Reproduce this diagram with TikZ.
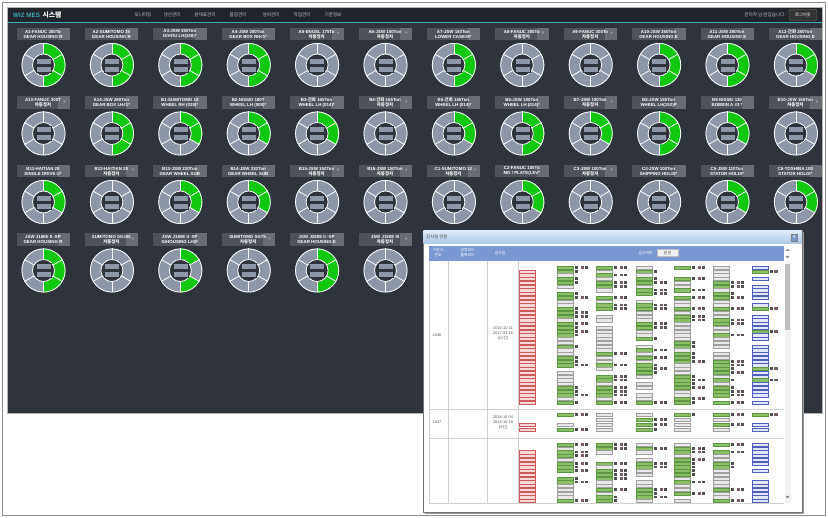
\documentclass[tikz,border=0pt]{standalone}
\usepackage{fontspec}
\setmainfont{Liberation Sans}
\newfontfamily\kr{Noto Sans CJK KR}
\definecolor{scr}{RGB}{46,51,60}
\definecolor{hdr}{RGB}{33,36,43}
\definecolor{mteal}{RGB}{64,168,178}
\definecolor{ringc}{RGB}{141,151,168}
\definecolor{ggreen}{RGB}{16,200,16}
\definecolor{lblbg}{RGB}{78,82,90}
\definecolor{lblbtn}{RGB}{104,108,115}
\definecolor{menuc}{RGB}{190,195,200}
\definecolor{thead}{RGB}{124,152,212}
\definecolor{redfill}{RGB}{246,214,214}
\definecolor{redline}{RGB}{205,90,90}
\definecolor{grayfill}{RGB}{232,232,232}
\definecolor{grayline}{RGB}{160,160,160}
\definecolor{grfill}{RGB}{140,190,105}
\definecolor{grline}{RGB}{95,150,70}
\definecolor{bluefill}{RGB}{226,230,248}
\definecolor{blueline}{RGB}{80,95,190}
\definecolor{tailA}{RGB}{80,80,80}
\definecolor{tailB}{RGB}{120,95,95}
\tikzset{
  spoke/.style={draw=white, line width=0.8pt},
  barbox/.style={fill=ringc, draw=scr, line width=0.6pt},
  lbltxt/.style={font=\fontsize{4.4}{5.1}\selectfont\bfseries, text=white, align=center, inner sep=0pt},
  xmark/.style={font=\fontsize{4.5}{5}\selectfont, text=white!85!black, inner sep=0pt},
  menu/.style={font=\kr\fontsize{4.6}{5}\selectfont, text=menuc, inner sep=0pt},
  cred/.style={fill=redfill, draw=redline, line width=0.35pt},
  cgray/.style={fill=grayfill, draw=grayline, line width=0.35pt},
  cgreen/.style={fill=grfill, draw=grline, line width=0.35pt},
  cblue/.style={fill=bluefill, draw=blueline, line width=0.35pt},
  ptxt/.style={font=\fontsize{3.9}{4.9}\selectfont, text=black!65, align=center, inner sep=0pt},
  htxt/.style={font=\kr\fontsize{3.8}{4.6}\selectfont, text=white, align=center, inner sep=0pt},
}
\newcommand\gauge[6]{%
  \pgfmathsetmacro\gx{43.5+68.4*(#1-1)}%
  \pgfmathsetmacro\gy{65+68.5*(#2-1)}%
  \begin{scope}[shift={(\gx,\gy)}]
    \fill[lblbg] (-27,-37) rectangle (14.5,-24.5);
    \fill[lblbtn] (14.5,-37) rectangle (26.5,-24.5);
    \node[lbltxt] (g#1-#2) at (-0.5,-30.7) {#3\\#4};
    \ifnum#6=1 \node[xmark] (x#1-#2) at (21,-31.5) {×};\fi
    \begin{scope}[yscale=-1]
      \fill[ringc] (0,0) circle (22);
      \foreach \s in {#5}{\ifnum\s>0
        \pgfmathsetmacro\aa{90-60*\s}\pgfmathsetmacro\ab{\aa+60}
        \fill[ggreen] (\aa:11) -- (\aa:22) arc[start angle=\aa,end angle=\ab,radius=22] -- (\ab:11) arc[start angle=\ab,end angle=\aa,radius=11] -- cycle;\fi}
      \foreach \a in {90,30,-30,-90,-150,150} \draw[spoke] (\a:11) -- (\a:22);
      \draw[spoke] (0,0) circle (21.6);
      \fill[scr] (0,0) circle (11);
      \draw[spoke] (0,0) circle (11);
      \filldraw[barbox] (-7.5,1.1) rectangle (7.5,6.9);
      \filldraw[barbox] (-7.5,-1.1) rectangle (7.5,-6.9);
    \end{scope}
  \end{scope}}
\begin{document}
\begin{tikzpicture}[x=1pt,y=-1pt]
\useasboundingbox (0,0) rectangle (828,518);
\fill[white] (0,0) rectangle (828,518);
\draw[black!45, line width=0.8pt] (2.5,2.5) rectangle (825.5,515.5);
\begin{scope}
\clip (7.5,7.5) rectangle (822.5,413);
\fill[scr] (7.5,7.5) rectangle (822.5,413);
% header
\fill[hdr] (7.5,7.5) rectangle (822.5,22.5);
\draw[mteal, line width=1pt] (7.5,23) -- (822.5,23);
\node[font=\fontsize{6.3}{7}\selectfont\bfseries, text=mteal, anchor=west, inner sep=0pt] (logo) at (13,15) {WIZ MES};
\node[font=\kr\fontsize{6.8}{7}\selectfont\bfseries, text=white, anchor=west, inner sep=0pt] (logo2) at ([xshift=2pt]logo.east) {시스템};
\node[menu] (m1) at (143,14.5) {모니터링};
\node[menu] (m2) at (172,14.5) {생산관리};
\node[menu] (m3) at (205,14.5) {원재료관리};
\node[menu] (m4) at (238,14.5) {품질관리};
\node[menu] (m5) at (271,14.5) {설비관리};
\node[menu] (m6) at (302,14.5) {작업관리};
\node[menu] (m7) at (333,14.5) {기준정보};
\node[menu, anchor=east] (hello) at (786,14.5) {관리자 님 반갑습니다.};
\filldraw[fill=black!80, draw=black!55, rounded corners=2pt] (789,9.5) rectangle (817,20.5);
\node[font=\kr\fontsize{4.3}{5}\selectfont, text=white, inner sep=0pt] (logout) at (803,15) {로그아웃};
% gauges
\gauge{1}{1}{A1-FANUC 300To}{GEAR HOUSING R}{1,2,3}{0}
\gauge{2}{1}{A2-SUMITOMO 35}{GEAR HOUSING R}{1,2,3}{0}
\gauge{3}{1}{A3-JSW 350Ton}{G/HOU LH(348)*}{1,2,3}{0}
\gauge{4}{1}{A4-JSW 280Ton}{GEAR BOX RH\#1*}{1,2,3}{0}
\gauge{5}{1}{A5-ENGEL 175To}{\kr 자동정지}{0}{1}
\gauge{6}{1}{A6-JSW 150Ton}{\kr 자동정지}{0}{1}
\gauge{7}{1}{A7-JSW 150Ton}{LOWER CASE\#8*}{1,2,3}{0}
\gauge{8}{1}{A8-FANUC 300To}{\kr 자동정지}{0}{1}
\gauge{9}{1}{A9-FANUC 300To}{\kr 자동정지}{0}{1}
\gauge{10}{1}{A10-JSW 350Ton}{GEAR HOUSING E}{1,2,3}{0}
\gauge{11}{1}{A11-JSW 280Ton}{GEAR HOUSING E}{1,2,3}{0}
\gauge{12}{1}{A12-{\kr 건화} 280Ton}{GEAR HOUSING E}{1,2}{0}
\gauge{1}{2}{A13-FANUC 300T}{\kr 자동정지}{0}{1}
\gauge{2}{2}{A14-JSW 280Ton}{GEAR BOX LH\#1*}{1,2,3}{0}
\gauge{3}{2}{B1-SUMITOMO 18}{WHEEL RH (028)*}{1,2}{0}
\gauge{4}{2}{B2-NISSEI 180T}{WHEEL LH (008)*}{1,2}{0}
\gauge{5}{2}{B3-{\kr 건화} 165Ton}{WHEEL LH (014)*}{1,2}{0}
\gauge{6}{2}{B4-{\kr 건화} 165Ton}{\kr 자동정지}{0}{1}
\gauge{7}{2}{B5-{\kr 건화} 165Ton}{WHEEL LH (014)*}{1,2}{0}
\gauge{8}{2}{B6-JSW 180Ton}{WHEEL LH (014)*}{1,2,3}{0}
\gauge{9}{2}{B7-JSW 180Ton}{\kr 자동정지}{1,2}{1}
\gauge{10}{2}{B8-JSW 180Ton}{WHEEL LH(152)P}{1,2,3}{0}
\gauge{11}{2}{B9-NISSEI 110}{BOBBIN A \#3 *}{1,2}{0}
\gauge{12}{2}{B10-JSW 150Ton}{\kr 자동정지}{0}{1}
\gauge{1}{3}{B11-HAITIAN 28}{SINGLE DRIVE U*}{1,2}{0}
\gauge{2}{3}{B12-HAITIAN 28}{\kr 자동정지}{0}{1}
\gauge{3}{3}{B13-JSW 220Ton}{GEAR WHEEL SUB}{1,2}{0}
\gauge{4}{3}{B14-JSW 220Ton}{GEAR WHEEL SUB}{1,2}{0}
\gauge{5}{3}{B15-JSW 150Ton}{\kr 자동정지}{0}{1}
\gauge{6}{3}{B16-JSW 150Ton}{\kr 자동정지}{0}{1}
\gauge{7}{3}{C1-SUMITOMO 12}{\kr 자동정지}{0}{1}
\gauge{8}{3}{C2-FANUC 100To}{MG / PLATE(LEV*}{1,2}{0}
\gauge{9}{3}{C3-JSW 100Ton}{\kr 자동정지}{0}{1}
\gauge{10}{3}{C4-JSW 100Ton}{SHIPPING HOLDI*}{0}{0}
\gauge{11}{3}{C5-JSW 110Ton}{STATOR HOLDI*}{1,2}{0}
\gauge{12}{3}{C6-TOSHIBA 100}{STATOR HOLDI*}{1,2}{0}
\gauge{1}{4}{JSW J180E II -SP}{GEAR HOUSING R}{1,2,3}{0}
\gauge{2}{4}{SUMITOMO SG180}{\kr 자동정지}{0}{1}
\gauge{3}{4}{JSW J180E II -SP}{G/HOUSING LH(F}{1,3}{0}
\gauge{4}{4}{SUMITOMO SG75.}{\kr 자동정지}{0}{1}
\gauge{5}{4}{JSW J280E II -SP}{GEAR HOUSING E}{1,2,3}{0}
\gauge{6}{4}{JSW J150E III}{\kr 자동정지}{0}{1}
\end{scope}
\draw[black!30, line width=0.6pt] (7.5,7.5) rectangle (822.5,413);
% popup
\fill[black!40] (425,232) rectangle (804,514);
\filldraw[fill=white, draw=black!55, line width=0.7pt] (423,230) rectangle (802,512);
\shade[top color={rgb,255:red,222;green,234;blue,247}, bottom color={rgb,255:red,170;green,199;blue,232}] (423.5,230.5) rectangle (801.5,244);
\node[font=\kr\fontsize{4.4}{5}\selectfont, text=black!70, anchor=west, inner sep=0pt] (ptitle) at (426,237.3) {검사일 현황};
\filldraw[fill={rgb,255:red,120;green,150;blue,200}, draw=black!50, line width=0.4pt] (791,234.3) rectangle (797.5,240.8);
\node[font=\fontsize{5}{5}\selectfont\bfseries, text=white, inner sep=0pt] (pclose) at (794.25,237.5) {×};
% table header
\fill[thead] (429,246) rectangle (784,261);
\node[htxt] (h1) at (438,252.8) {기준서\\번호};
\node[htxt] (h2) at (467.7,252.8) {공정코드\\품목코드};
\node[htxt] (h3) at (500,252.8) {검사일};
\node[htxt] (h4) at (645.5,252.6) {검사여부};
\filldraw[fill=black!6, draw=black!25, line width=0.3pt] (657,248.8) rectangle (678,256.5);
\node[font=\kr\fontsize{3.8}{4.6}\selectfont, text=black!70, inner sep=0pt] (hbtn) at (667.5,252.7) {결 린};
% grid lines
\foreach \lx in {429,448,487,518} \draw[black!18, line width=0.4pt] (\lx,261) -- (\lx,503);
\foreach \ly in {409,438,503} \draw[black!18, line width=0.4pt] (429,\ly) -- (784,\ly);
% row texts
\node[ptxt] (r1) at (437,335) {1046};
\node[ptxt] (d1) at (503,333.5) {2016-10-11\\2017-03-16\\({\kr 61건})};
\node[ptxt] (r2) at (437,422) {1047};
\node[ptxt] (d2) at (503,422.5) {2016-10-04\\2016-10-18\\({\kr 4건})};
% cells
\pgfmathsetseed{4242}
\foreach \yz/\nr/\rs/\st in {266/37/2/3.75, 413/4/3/5, 443/16/3/3.75}{
  \foreach \r in {\rs,...,\nr}{
    \pgfmathsetmacro\yy{\yz+\st*(\r-1)}
    \filldraw[cred] (519,\yy) rectangle ++(16,3.2);
  }
  \foreach \colx in {557,596,636,674,713}{
    \foreach \r in {1,...,\nr}{
      \pgfmathrandominteger{\t}{0}{12}
      \pgfmathsetmacro\yy{\yz+\st*(\r-1)}
      \ifnum\t<6
        \filldraw[cgray] (\colx,\yy) rectangle ++(16,3.2);
      \else\ifnum\t<12
        \filldraw[cgreen] (\colx,\yy) rectangle ++(16,3.2);
        \fill[tailA] (\colx+17.5,\yy+0.2) rectangle ++(3,2.8);
        \ifnum\t>7 \fill[tailB] (\colx+24,\yy+0.2) rectangle ++(3,2.8);
        \fill[tailA] (\colx+27.5,\yy+0.2) rectangle ++(3,2.8);\fi
      \fi\fi
    }}
  \foreach \r in {1,...,\nr}{
    \pgfmathrandominteger{\t}{0}{9}
    \pgfmathsetmacro\yy{\yz+\st*(\r-1)}
    \ifnum\t<8
      \filldraw[cblue] (752,\yy) rectangle ++(16,3.2);
    \else\ifnum\t<9
      \filldraw[cgreen] (752,\yy) rectangle ++(16,3.2);
      \fill[tailA] (752+17.5,\yy+0.2) rectangle ++(3,2.8);
      \fill[tailB] (752+22,\yy+0.2) rectangle ++(4,2.8);
    \fi\fi
  }
}
% scrollbar
\fill[black!5] (784.5,261) rectangle (790.5,503);
\fill[black!25] (785,264) rectangle (790,330);
\fill[black!45] (785.5,251) -- (789.5,251) -- (787.5,248.5) -- cycle;
\fill[black!45] (785.5,256) -- (789.5,256) -- (787.5,258.5) -- cycle;
\fill[black!45] (785.5,496) -- (789.5,496) -- (787.5,498.5) -- cycle;
\end{tikzpicture}
\end{document}
